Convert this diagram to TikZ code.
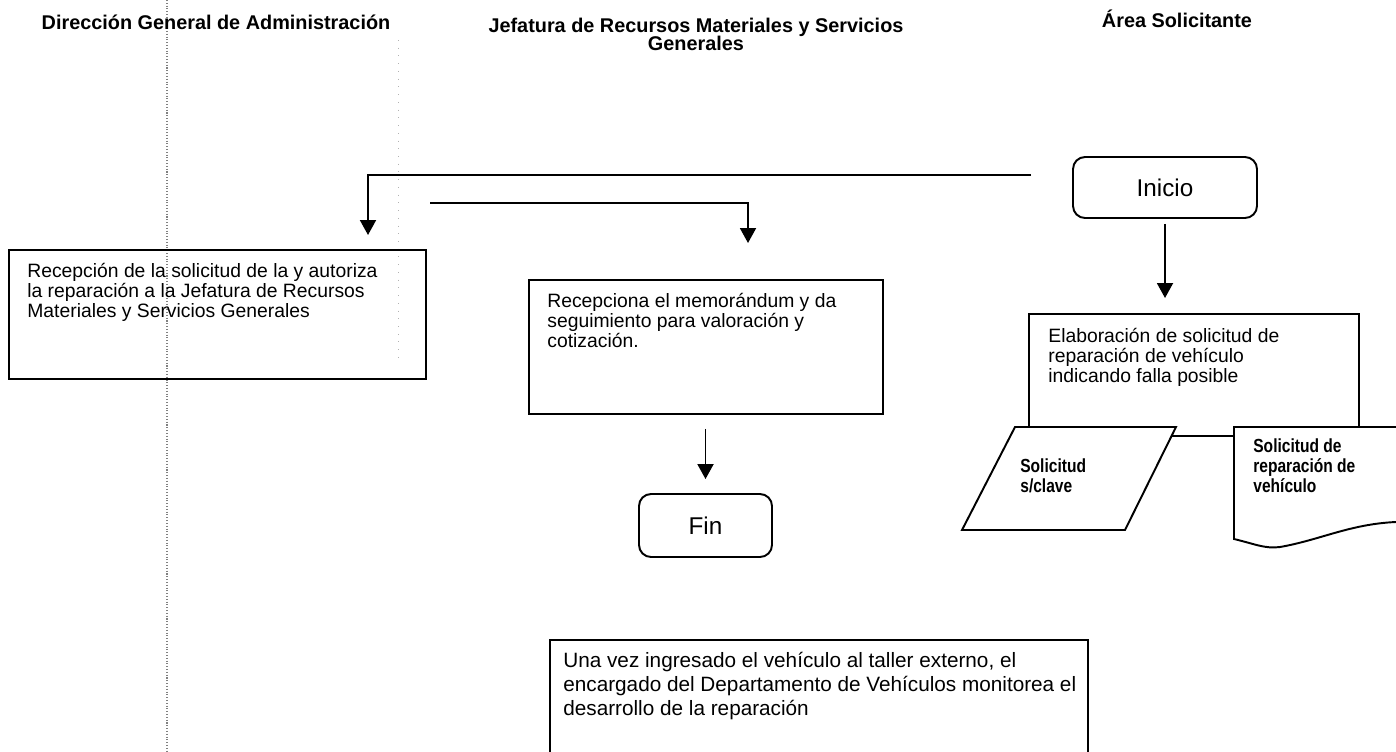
\documentclass[tikz,border=0pt]{standalone}
\usepackage{fontspec}
\setmainfont{Liberation Sans}
\newfontfamily\narrowfont[FakeStretch=0.82]{Liberation Sans}
\usetikzlibrary{positioning, calc, arrows.meta}

\tikzset{
    proc/.style={draw, line width=1.1pt, anchor=north west, inner sep=0pt},
    term/.style={draw, line width=1.1pt, rounded corners=0.24cm, minimum width=3.68cm, minimum height=1.22cm, font=\fontsize{13.8}{14}\selectfont},
    head/.style={anchor=base, inner sep=0pt, font=\fontsize{11.3}{10.8}\selectfont\bfseries},
    txt/.style={anchor=base west, inner sep=0pt, font=\fontsize{11}{11.4}\selectfont},
    bigtxt/.style={anchor=base west, inner sep=0pt, font=\fontsize{11.8}{13.7}\selectfont},
    small/.style={anchor=base west, inner sep=0pt, font=\fontsize{10.8}{11.4}\selectfont\narrowfont\bfseries},
    flow/.style={line width=1.1pt}
}

\begin{document}
\begin{tikzpicture}[x=0.02cm, y=-0.02cm, >={Triangle[length=0.3cm, width=0.32cm]}]

    \useasboundingbox (0,0) rectangle (1396,751);

    % Lane guides (dotted, as scanned)
    \draw[gray, densely dotted, line width=0.6pt] (167,0) -- (167,751);
    \draw[gray!60, loosely dotted] (398,40) -- (398,360);

    % Lane headers
    \node[head] (hdga) at (216,29) {Dirección General de Administración};
    \node[head] (hjrm) at (696,32) {\parbox[t]{9cm}{\centering Jefatura de Recursos Materiales y Servicios\\Generales}};
    \node[head] (hasol) at (1177,27) {Área Solicitante};

    % Process boxes
    \node[proc, minimum width=8.34cm, minimum height=2.58cm] (rec) at (8,249) {};
    \node[proc, minimum width=7.08cm, minimum height=2.68cm] (rcp) at (528,279) {};
    \node[proc, minimum width=6.6cm, minimum height=2.44cm] (ela) at (1028,313) {};
    \node[proc, minimum width=10.76cm, minimum height=3cm] (nota) at (549,639) {};

    % Start and end
    \node[term] (ini) at (1165,187.5) {Inicio};
    \node[term, minimum width=2.66cm, minimum height=1.26cm] (fin) at (705.5,525.5) {Fin};

    % Texts inside the boxes
    \node[txt] (trec) at ($(rec.north west)+(19,28)$) {\parbox[t]{8cm}{Recepción de la solicitud de la y autoriza\\la reparación a la Jefatura de Recursos\\Materiales y Servicios Generales}};
    \node[txt] (trcp) at ($(rcp.north west)+(19,28)$) {\parbox[t]{6.8cm}{Recepciona el memorándum y da\\seguimiento para valoración y\\cotización.}};
    \node[txt] (tela) at ($(ela.north west)+(20,29)$) {\parbox[t]{6.2cm}{Elaboración de solicitud de\\reparación de vehículo\\indicando falla posible}};
    \node[bigtxt] (tnota) at ($(nota.north west)+(14,28)$) {\parbox[t]{10.5cm}{Una vez ingresado el vehículo al taller externo, el\\encargado del Departamento de Vehículos monitorea el\\desarrollo de la reparación}};

    % Data and document symbols below the request box
    \draw[flow, fill=white] (1015,427) -- (1176,427) -- (1125,530) -- (962,530) -- cycle;
    \draw[flow, fill=white] (1396,427) -- (1234,427) -- (1234,539)
        .. controls (1255,544) and (1265,549) .. (1280,547)
        .. controls (1320,540) and (1350,524) .. (1396,522);
    \node[small] (tpar) at (1020,472) {\parbox[t]{3cm}{Solicitud\\s/clave}};
    \node[small] (tdoc) at (1253,452) {\parbox[t]{3cm}{Solicitud de\\reparación de\\vehículo}};

    % Connectors
    \coordinate (a1s) at (1031,175);
    \coordinate (a1e) at (368,235);
    \draw[flow, ->] (a1s) -| (a1e);
    \coordinate (a2s) at (430,203);
    \coordinate (a2e) at (748,243);
    \draw[flow, ->] (a2s) -| (a2e);
    \draw[flow, ->] ([yshift=-0.1cm]ini.south) -- ([yshift=0.3cm]ini.south |- ela.north);
    \draw[flow, ->] ([yshift=-0.28cm]fin.north |- rcp.south) -- ([yshift=0.28cm]fin.north);

\end{tikzpicture}
\end{document}
